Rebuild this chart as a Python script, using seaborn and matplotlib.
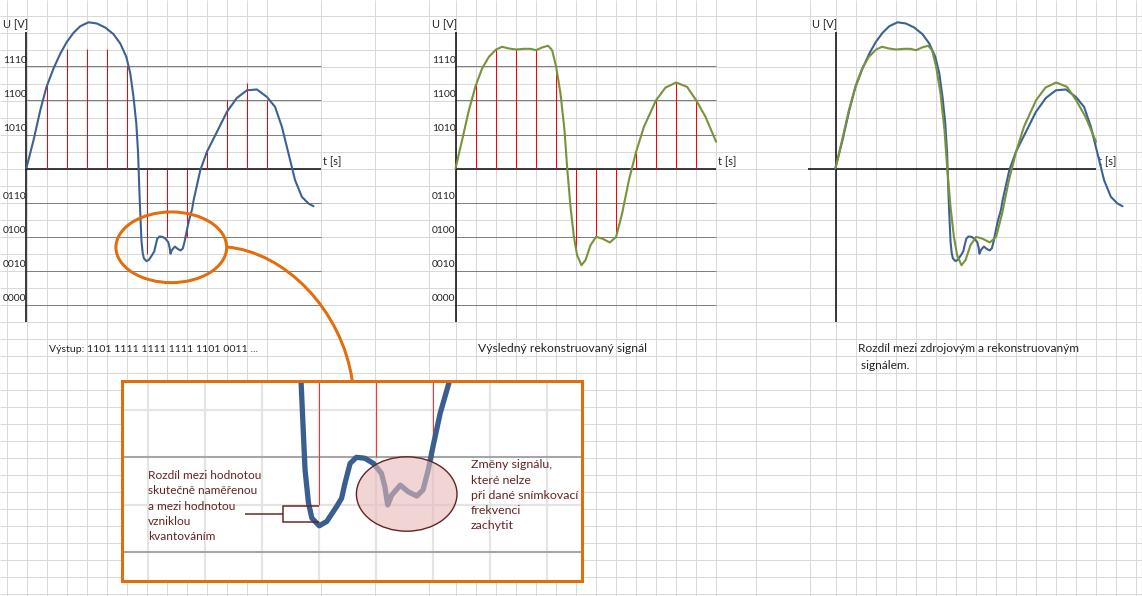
import numpy as np
import matplotlib
matplotlib.use("Agg")
import matplotlib.pyplot as plt
import seaborn as sns
from matplotlib.patches import Ellipse, PathPatch
from matplotlib.path import Path

sns.set_theme(style="white")
plt.rcParams["font.family"] = ["Lato", "DejaVu Sans"]

# ---- data -------------------------------------------------------------
# measured (source) signal: time in sampling periods, voltage in quantisation steps
src_t = [0.0, 0.35, 0.69, 1.0, 1.35, 1.69, 2.02, 2.35, 2.69, 3.1, 3.52, 3.94,
         4.35, 4.69, 4.99, 5.19, 5.35, 5.49, 5.58, 5.64, 5.68, 5.71, 5.75,
         5.81, 5.87, 6.0, 6.13, 6.3, 6.39, 6.45, 6.54, 6.65, 6.8, 6.95, 7.09,
         7.15, 7.2, 7.27, 7.42, 7.56, 7.71, 7.82, 7.91, 8.0, 8.12, 8.28, 8.35,
         8.69, 9.02, 9.52, 10.02, 10.52, 11.02, 11.52, 12.02, 12.43, 12.77,
         13.1, 13.43, 13.77, 14.1, 14.35]
src_v = [0.05, 1.66, 3.43, 4.8, 5.88, 6.76, 7.45, 7.98, 8.37, 8.6, 8.53, 8.29,
         7.9, 7.35, 6.57, 5.59, 4.21, 2.65, 0.9, -1.2, -2.4, -3.21, -4.27,
         -4.97, -5.29, -5.45, -5.36, -5.05, -4.87, -4.55, -4.13, -4.0, -4.02,
         -4.13, -4.34, -4.62, -5.01, -4.8, -4.59, -4.73, -4.82, -4.69, -4.27,
         -3.74, -3.07, -2.4, -1.9, -0.1, 0.98, 2.15, 3.33, 4.15, 4.6, 4.65,
         4.21, 3.62, 2.45, 0.88, -0.69, -1.67, -2.06, -2.22]

# reconstructed signal
rec_t = [0.0, 0.33, 0.67, 1.0, 1.33, 1.67, 2.03, 2.33, 2.67, 3.03, 3.42, 3.75,
         4.03, 4.33, 4.63, 4.83, 5.03, 5.25, 5.45, 5.58, 5.75, 5.92, 6.08,
         6.3, 6.5, 6.75, 7.03, 7.33, 7.72, 8.03, 8.33, 8.67, 9.03, 9.42,
         10.03, 10.5, 11.03, 11.58, 12.03, 12.5, 13.03]
rec_v = [0.0, 1.67, 3.43, 4.84, 5.88, 6.57, 7.0, 7.16, 7.06, 7.0, 7.04, 7.04,
         6.96, 7.12, 7.22, 6.96, 6.0, 4.41, 2.25, 0.1, -2.25, -4.02, -5.1,
         -5.69, -5.39, -4.51, -4.02, -4.12, -4.35, -4.02, -2.65, -0.69, 0.98,
         2.45, 4.02, 4.76, 5.06, 4.8, 4.02, 3.04, 1.57]

# quantised samples
sample_t = [1, 2, 3, 4, 5, 6, 7, 8, 9, 10, 11, 12]
sample_v = [5, 7, 7, 7, 6, -5, -4, -4, 1, 4, 5, 4]

# quantisation levels and their codes
level_v = [6, 4, 2, -2, -4, -6, -8]
level_codes = ["1110", "1100", "1010", "0110", "0100", "0010", "0000"]

caption_out = "Výstup: 1101 1111 1111 1111 1101 0011 ..."
caption_rec = "Výsledný rekonstruovaný signál"
caption_diff = ["Rozdíl mezi zdrojovým a rekonstruovaným", " signálem."]
note_left = ["Rozdíl mezi hodnotou", "skutečně naměřenou", "a mezi hodnotou",
             "vzniklou", "kvantováním"]
note_right = ["Změny signálu,", "které nelze", "při dané snímkovací",
              "frekvenci", "zachytit"]

# ---- style ------------------------------------------------------------
W, H = 1142, 596
PX_T, PX_V = 20, 17
BLUE = "#3D6194"
GREEN = "#77933C"
ORANGE = "#E46C0A"
DARKRED = "#632523"
PINK = "#E6B9B8"
CELL = "#D9D9D9"
LEVEL = "#808080"
TXT = "#222222"
PX = 0.72  # one pixel in points

fig = plt.figure(figsize=(W / 100, H / 100), dpi=100)
fig.patch.set_facecolor("white")

# spreadsheet cells in the background
bg = fig.add_axes([0, 0, 1, 1])
bg.set_xlim(0, W)
bg.set_ylim(H, 0)
bg.axis("off")
cols = (list(np.arange(6.5, 267, 20)) + [320.5, 374.5, 428.5]
        + list(np.arange(455.5, 716, 20)) + [755.5, 809.5]
        + list(np.arange(835.5, 1140, 20)))
rows = np.arange(15.5, H, 17)
bg.vlines(cols, 0, H, color=CELL, lw=PX)
bg.hlines(rows, 0, W, color=CELL, lw=PX)


def panel(ox, oy, t0=-1.45, t1=15.4, v0=-9.4, v1=9.4):
    ax = fig.add_axes([(ox + t0 * PX_T) / W, (H - oy + v0 * PX_V) / H,
                       (t1 - t0) * PX_T / W, (v1 - v0) * PX_V / H])
    ax.axis("off")
    return ax, (t0, t1, v0, v1)


def curve(ax, t, v, color, lw, z=3):
    sns.lineplot(x=np.asarray(t), y=np.asarray(v), ax=ax, color=color,
                 linewidth=lw, sort=False, estimator=None, zorder=z,
                 solid_capstyle="round", solid_joinstyle="round")


def frame(ax, t_end, levels=True, t_start=0.0, tlabel_t=13.1):
    if levels:
        ax.hlines(level_v, 0, t_end, color=LEVEL, lw=PX, zorder=1)
        for v, code in zip(level_v, level_codes):
            ax.text(-1.19, v + 0.2, code, fontsize=7.4, color=TXT,
                    ha="left", va="baseline")
    ax.hlines(0, t_start, t_end, color="black", lw=1.5 * PX, zorder=2)
    ax.vlines(0, -9, 8, color="black", lw=1.5 * PX, zorder=2)
    ax.text(-1.19, 8.24, "U [V]", fontsize=7.9, color=TXT, ha="left",
            va="baseline")
    ax.text(tlabel_t, 0.18, "t [s]", fontsize=7.9, color=TXT, ha="left",
            va="baseline", zorder=1)


# panel 1: source signal with quantised samples
ax1, lim1 = panel(26.5, 168.5)
frame(ax1, 14.7, tlabel_t=14.84)
ax1.vlines(sample_t, 0, sample_v, color="#FF0000", lw=1.0 * PX, zorder=2.5)
curve(ax1, src_t, src_v, BLUE, 1.5)

# panel 2: reconstruction from the samples
ax2, lim2 = panel(455.5, 168.5)
frame(ax2, 13.0)
ax2.vlines(sample_t, 0, sample_v, color="#FF0000", lw=1.0 * PX, zorder=2.5)
curve(ax2, rec_t, rec_v, GREEN, 1.5)

# panel 3: source versus reconstruction
ax3, lim3 = panel(835.5, 168.5)
frame(ax3, 13.0, levels=False, t_start=-1.37)
curve(ax3, src_t, src_v, BLUE, 1.5, z=3)
curve(ax3, rec_t, rec_v, GREEN, 1.5, z=4)

for ax, (t0, t1, v0, v1) in [(ax1, lim1), (ax2, lim2), (ax3, lim3)]:
    ax.set_xlim(t0, t1)
    ax.set_ylim(v0, v1)
    ax.get_legend() and ax.get_legend().remove()

# magnified detail of the dip
box = (121.7, 381.0, 582.3, 580.7)
ax_in = fig.add_axes([box[0] / W, 1 - box[3] / H, (box[2] - box[0]) / W,
                      (box[3] - box[1]) / H])
ax_in.set_facecolor("white")
ax_in.vlines(range(2, 12), -8, -1, color="#E4E4E4", lw=1.6, zorder=0.5)
ax_in.hlines([-3, -5], 2, 11, color="#E4E4E4", lw=1.6, zorder=0.5)
ax_in.hlines([-4, -6], 2, 11, color="#A6A6A6", lw=1.5, zorder=1)
ax_in.vlines(sample_t, 0, sample_v, color="#FF3030", lw=1.0 * PX, zorder=2)
curve(ax_in, src_t, src_v, "#3A5E8F", 3.8)
ax_in.set_xlim(2.533, 10.614)
ax_in.set_ylim(-6.614, -2.383)
ax_in.set_xticks([])
ax_in.set_yticks([])
ax_in.set_xlabel("")
ax_in.set_ylabel("")
for s in ax_in.spines.values():
    s.set_visible(True)
    s.set_color(ORANGE)
    s.set_linewidth(3 * PX)
    s.set_zorder(6)

# annotations on top
top = fig.add_axes([0, 0, 1, 1])
top.set_xlim(0, W)
top.set_ylim(H, 0)
top.axis("off")

top.add_patch(Ellipse((171.3, 247.3), 110.7, 70.7, fill=False, ec=ORANGE,
                      lw=3 * PX))
conn = Path([(226.7, 247.0), (285, 252), (342, 310), (352.3, 381.0)],
            [Path.MOVETO, Path.CURVE4, Path.CURVE4, Path.CURVE4])
top.add_patch(PathPatch(conn, fill=False, ec=ORANGE, lw=3 * PX))

top.add_patch(Ellipse((406.7, 494.0), 100.6, 74.4, fc=PINK, alpha=0.6,
                      ec="none"))
top.add_patch(Ellipse((406.7, 494.0), 100.6, 74.4, fill=False, ec=DARKRED,
                      lw=1.4 * PX))
bracket = Path([(319.3, 506.0), (282.7, 506.0), (282.7, 521.7), (318.5, 521.7),
                (245.0, 514.0), (282.7, 514.0)],
               [Path.MOVETO, Path.LINETO, Path.LINETO, Path.LINETO,
                Path.MOVETO, Path.LINETO])
top.add_patch(PathPatch(bracket, fill=False, ec=DARKRED, lw=1.5 * PX))

for i, line in enumerate(note_left):
    top.text(148.3, 479.0 + i * 15.25, line, fontsize=8.6, color=DARKRED,
             ha="left", va="baseline")
for i, line in enumerate(note_right):
    top.text(471.0, 468.3 + i * 15.2, line, fontsize=8.9, color=DARKRED,
             ha="left", va="baseline")

top.text(49.3, 351.7, caption_out, fontsize=7.55, color=TXT, ha="left",
         va="baseline")
top.text(477.7, 352.3, caption_rec, fontsize=8.75, color=TXT, ha="left",
         va="baseline")
top.text(858.3, 352.3, caption_diff[0], fontsize=8.6, color=TXT, ha="left",
         va="baseline")
top.text(858.3, 369.0, caption_diff[1], fontsize=8.6, color=TXT, ha="left",
         va="baseline")

fig.savefig("out.png", dpi=100)
